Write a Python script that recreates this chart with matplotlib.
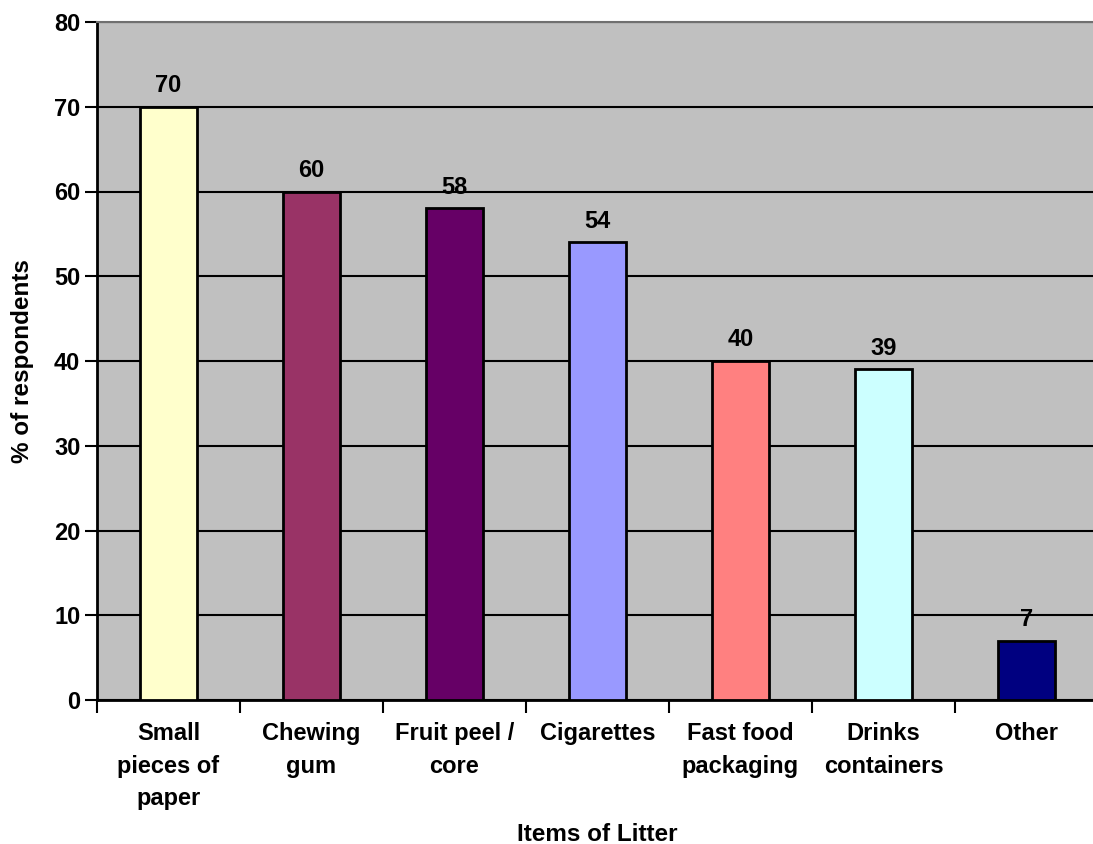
import matplotlib
matplotlib.use("Agg")
import matplotlib.pyplot as plt
import numpy as np

categories = ["Small\npieces of\npaper", "Chewing\ngum", "Fruit peel /\ncore", "Cigarettes",
              "Fast food\npackaging", "Drinks\ncontainers", "Other"]
values = [70, 60, 58, 54, 40, 39, 7]
colors = ["#FFFFCC", "#993366", "#660066", "#9999FF", "#FF8080", "#CCFFFF", "#000080"]
y_ticks = [0, 10, 20, 30, 40, 50, 60, 70, 80]

plt.rcParams['font.family'] = ['Liberation Sans', 'DejaVu Sans']
plt.rcParams['font.weight'] = 'bold'
FS = 17

fig = plt.figure(figsize=(10.93, 8.44), dpi=100)
ax = fig.add_axes([97/1093, 1 - 700/844, 1001/1093, 678/844])
ax.set_facecolor("#C0C0C0")

x = np.arange(len(categories))
ax.set_axisbelow(True)
ax.yaxis.grid(True, color="black", linewidth=1.5)
bars = ax.bar(x, values, width=0.4, color=colors, edgecolor="black", linewidth=2, zorder=3)

for xi, v in zip(x, values):
    ax.annotate(str(v), (xi, v), xytext=(0, 7), textcoords="offset points",
                ha="center", va="bottom", fontsize=FS, fontweight="bold")

ax.set_xlim(-0.5, len(categories) - 0.5)
ax.set_ylim(0, 80)
ax.set_yticks(y_ticks)
ax.set_yticklabels([str(t) for t in y_ticks], fontsize=FS, fontweight="bold")
ax.tick_params(axis="y", length=9, width=1.5, pad=3)

ax.set_xticks(np.arange(len(categories) + 1) - 0.5)
ax.set_xticklabels([])
ax.set_xticks(x, minor=True)
ax.set_xticklabels(categories, minor=True, fontsize=FS, fontweight="bold", linespacing=1.52)
ax.tick_params(axis="x", which="major", length=9, width=1.5)
ax.tick_params(axis="x", which="minor", length=0, pad=16)

ax.spines["left"].set_linewidth(2)
ax.spines["bottom"].set_linewidth(2)
ax.spines["top"].set_color("#707070")
ax.spines["top"].set_linewidth(1.5)
ax.spines["right"].set_visible(False)

ax.set_ylabel("% of respondents", fontsize=17.5, fontweight="bold")
ax.yaxis.set_label_coords(-0.063, 0.5)
ax.set_xlabel("Items of Litter", fontsize=17.5, fontweight="bold")
ax.xaxis.set_label_coords(0.5, -0.181)

fig.savefig("out.png", dpi=100)
